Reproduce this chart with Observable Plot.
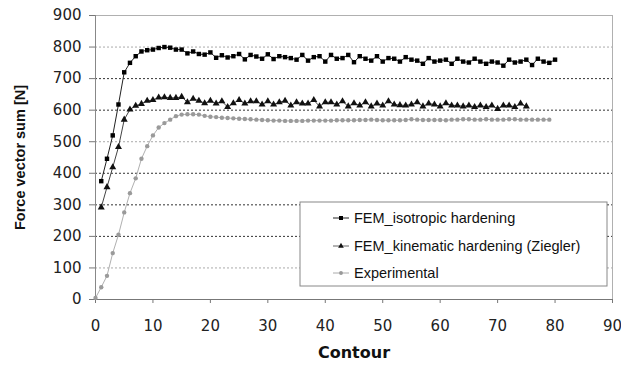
<!DOCTYPE html>
<html>
<head>
<meta charset="utf-8">
<script src="https://cdn.jsdelivr.net/npm/d3@7"></script>
<script src="https://cdn.jsdelivr.net/npm/@observablehq/plot@0.6"></script>
<style>
  html, body { margin: 0; padding: 0; background: white; }
</style>
</head>
<body>
<div id="chart"></div>
<script>
// ---- data ----
const seriesNames = ["FEM_isotropic hardening", "FEM_kinematic hardening (Ziegler)", "Experimental"];

const isoContour = d3.range(1, 81);
const isoValues = [375, 446, 520, 618, 720, 750, 771, 786, 790, 792,
  797, 800, 798, 792, 792, 780, 786, 778, 776, 783,
  766, 774, 767, 771, 778, 761, 775, 770, 763, 777,
  762, 771, 768, 765, 760, 775, 757, 768, 771, 754,
  775, 763, 765, 775, 752, 771, 763, 757, 771, 754,
  765, 763, 754, 768, 760, 757, 747, 765, 754, 757,
  760, 747, 763, 754, 751, 763, 754, 747, 754, 751,
  741, 760, 751, 754, 760, 743, 763, 754, 750, 760];

const kinContour = d3.range(1, 76);
const kinValues = [292, 356, 419, 483, 570, 602, 614, 620, 630, 632,
  640, 641, 639, 639, 642, 625, 636, 630, 622, 630,
  621, 628, 610, 622, 632, 621, 628, 628, 618, 628,
  618, 625, 630, 615, 625, 621, 621, 632, 612, 625,
  625, 618, 628, 612, 622, 615, 625, 612, 621, 615,
  628, 618, 616, 615, 618, 625, 612, 621, 618, 612,
  622, 615, 615, 612, 615, 610, 615, 610, 615, 604,
  615, 615, 610, 621, 612];

const expContour = d3.range(0, 80);
const expValues = [5, 39, 75, 147, 205, 276, 337, 384, 446, 486,
  520, 545, 559, 570, 581, 586, 587, 587, 586, 582,
  579, 578, 576, 575, 574, 573, 572, 571, 570, 569,
  568, 567, 567, 566, 566, 566, 566, 567, 567, 567,
  567, 567, 568, 568, 568, 568, 569, 569, 570, 569,
  568, 568, 568, 568, 569, 571, 570, 569, 569, 569,
  569, 568, 570, 570, 571, 571, 570, 570, 571, 570,
  570, 570, 571, 571, 570, 570, 570, 570, 570, 570];

const xTicks = [0, 10, 20, 30, 40, 50, 60, 70, 80, 90];
const yTicks = [0, 100, 200, 300, 400, 500, 600, 700, 800, 900];
const gridDark = [200, 300, 400, 600, 700];
const gridLight = [100, 500, 800];

const iso = isoContour.map((c, i) => ({c, v: isoValues[i]}));
const kin = kinContour.map((c, i) => ({c, v: kinValues[i]}));
const exp = expContour.map((c, i) => ({c, v: expValues[i]}));

const chart = Plot.plot({
  width: 621,
  height: 367,
  marginLeft: 95,
  marginRight: 9,
  marginTop: 15,
  marginBottom: 68,
  x: {domain: [0, 90]},
  y: {domain: [0, 900]},
  style: {fontFamily: "DejaVu Sans", fontSize: "15px", color: "#222", background: "white"},
  marks: [
    Plot.ruleY(gridLight, {stroke: "#aaa", strokeDasharray: "2,2"}),
    Plot.ruleY(gridDark, {stroke: "#333", strokeDasharray: "2,2"}),
    Plot.frame({stroke: "#b0b0b0"}),
    Plot.axisY({ticks: yTicks, tickSize: 6, tickPadding: 8, label: null, stroke: "#777"}),
    Plot.axisX({ticks: xTicks, tickSize: 4, tickPadding: 17, label: null, stroke: "#777"}),
    Plot.ruleY([0], {stroke: "#777"}),
    Plot.ruleX([0], {stroke: "#888"}),
    Plot.line(exp, {x: "c", y: "v", stroke: "#b0b0b0", strokeWidth: 1}),
    Plot.dot(exp, {x: "c", y: "v", r: 2.2, fill: "#9a9a9a", stroke: "none"}),
    Plot.line(kin, {x: "c", y: "v", stroke: "#444", strokeWidth: 1}),
    Plot.dot(kin, {x: "c", y: "v", symbol: "triangle", r: 2.6, fill: "#111", stroke: "none"}),
    Plot.line(iso, {x: "c", y: "v", stroke: "#222", strokeWidth: 1}),
    Plot.dot(iso, {x: "c", y: "v", symbol: "square", r: 2.5, fill: "#000", stroke: "none"}),
    Plot.text(["Contour"], {frameAnchor: "bottom", dy: 58, fontWeight: "bold", fontSize: 16, fontFamily: "DejaVu Sans", fill: "#111"}),
    Plot.text(["Force vector sum [N]"], {frameAnchor: "left", textAnchor: "middle", rotate: -90, dx: -75, fontWeight: "bold", fontSize: 14.5, fontFamily: "Liberation Sans", fill: "#111"})
  ]
});

document.getElementById("chart").appendChild(chart);

// ---- legend (drawn inside the plot area) ----
const svg = d3.select(chart);
const lg = svg.append("g").attr("transform", "translate(300,202)");
lg.append("rect").attr("width", 307).attr("height", 84)
  .attr("fill", "white").attr("stroke", "#888").attr("stroke-width", 1);
const legendStyles = [
  {symbol: d3.symbolSquare, size: 16, fill: "#000", line: "#222"},
  {symbol: d3.symbolTriangle, size: 14, fill: "#111", line: "#666"},
  {symbol: d3.symbolCircle, size: 12, fill: "#999", line: "#aaa"}
];
const rowY = [16, 44, 71];
seriesNames.forEach((name, i) => {
  const g = lg.append("g").attr("transform", `translate(0,${rowY[i]})`);
  g.append("line").attr("x1", 33).attr("x2", 49).attr("y1", 0).attr("y2", 0)
    .attr("stroke", legendStyles[i].line).attr("stroke-width", 1);
  g.append("path").attr("transform", "translate(41,0)")
    .attr("d", d3.symbol(legendStyles[i].symbol, legendStyles[i].size)())
    .attr("fill", legendStyles[i].fill);
  g.append("text").attr("x", 54).attr("y", 0).attr("dy", "0.35em")
    .attr("text-anchor", "start")
    .attr("font-family", "Liberation Sans").attr("font-size", 14.5)
    .attr("fill", "#111").text(name);
});
</script>
</body>
</html>
